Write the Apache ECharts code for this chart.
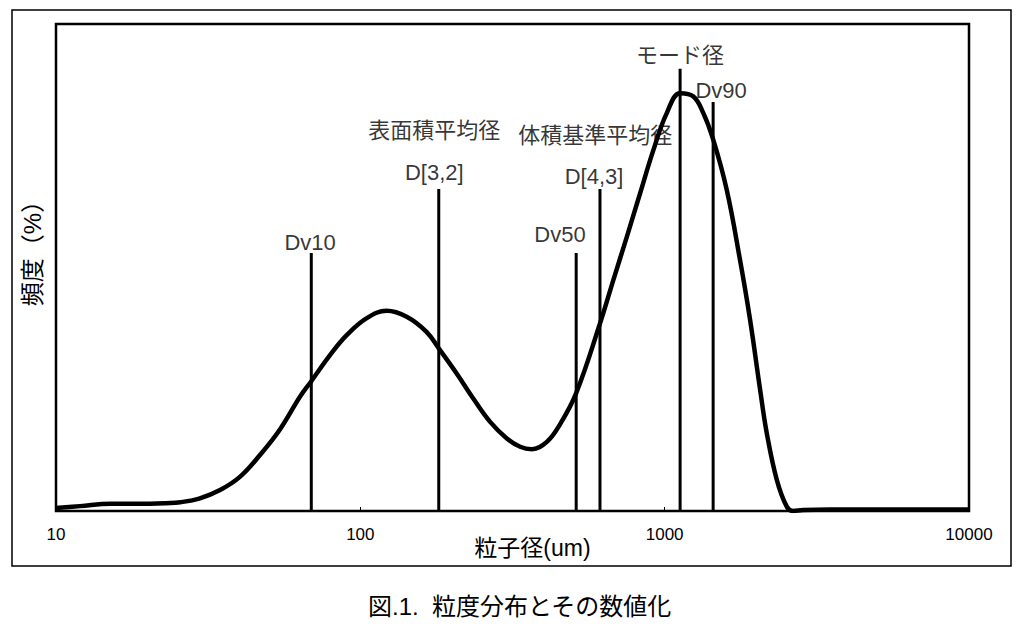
<!DOCTYPE html>
<html>
<head>
<meta charset="utf-8">
<script src="https://cdn.jsdelivr.net/npm/echarts@6/dist/echarts.min.js"></script>
<style>
  html, body { margin: 0; padding: 0; background: #fff; }
  #psdChart { width: 1020px; height: 625px; }
</style>
</head>
<body>
<div id="psdChart"></div>
<script>
// 粒度分布カーブ (粒子径 um, 頻度 相対値)
var curveX = [10, 12.0, 15.1, 17.5, 20.4, 23.0, 25.6, 29.7, 34.6, 40.2, 46.8, 54.5, 63.4, 68.9, 79.5, 90.2,
  105, 122, 142, 165, 181, 207, 235, 267, 303, 335, 366, 410, 453, 512, 613, 678, 751, 830, 918, 1016,
  1124, 1243, 1340, 1445, 1600, 1769, 1909, 2059, 2165, 2336, 2519, 2642, 2850, 3500, 5900, 10000];
var curveY = [0.6, 1.0, 1.5, 1.5, 1.5, 1.6, 1.8, 2.6, 4.3, 7.0, 11.5, 16.8, 23.5, 26.6, 32.0, 36.1,
  39.6, 41.1, 39.9, 36.8, 33.4, 28.3, 23.1, 18.3, 14.9, 13.2, 12.7, 14.2, 17.8, 24.2, 38.5, 47.4, 56.3, 65.2, 74.1, 81.7,
  85.8, 85.1, 81.7, 76.2, 65.9, 51.5, 39.2, 24.9, 16.0, 6.4, 0.9, 0.0, 0.2, 0.3, 0.3, 0.3];

// 代表径の縦線
var markerNames = ["Dv10", "D[3,2]", "Dv50", "D[4,3]", "モード径", "Dv90"];
var markerX = [69, 181, 512, 613, 1124, 1443];
var markerTop = [53.0, 66.1, 53.0, 66.1, 90.8, 84.0];

// 注記ラベル
var labelText = ["Dv10", "表面積平均径", "D[3,2]", "Dv50", "体積基準平均径", "D[4,3]", "モード径", "Dv90"];
var labelX = [68.4, 175, 175, 453, 591, 586, 1124, 1532];
var labelY = [55.2, 78.1, 69.6, 56.7, 77.2, 68.6, 93.6, 86.4];

var xTicks = [10, 100, 1000, 10000];

var fontLatin = '"Liberation Sans", Arial, "Noto Sans CJK JP", sans-serif';

var myChart = echarts.init(document.getElementById("psdChart"), null, { renderer: "svg" });

var series = [];
markerX.forEach(function (x, i) {
  series.push({
    name: markerNames[i],
    type: "line",
    data: [[x, 0], [x, markerTop[i]]],
    symbol: "none",
    silent: true,
    lineStyle: { color: "#000", width: 3 },
    z: 2
  });
});
series.push({
  name: "頻度",
  type: "line",
  data: curveX.map(function (x, i) { return [x, curveY[i]]; }),
  symbol: "none",
  smooth: 0.4,
  silent: true,
  lineStyle: { color: "#000", width: 4.5 },
  z: 3
});
series.push({
  name: "labels",
  type: "scatter",
  symbolSize: 0,
  silent: true,
  data: labelText.map(function (t, i) { return { name: t, value: [labelX[i], labelY[i]] }; }),
  label: {
    show: true,
    position: "inside",
    formatter: function (p) { return p.name; },
    color: "#000",
    fontSize: 22,
    fontFamily: fontLatin
  },
  z: 4
});

var option = {
  animation: false,
  backgroundColor: "#fff",
  title: {
    text: "図.1.  粒度分布とその数値化",
    left: 363,
    top: 589,
    textStyle: { color: "#000", fontSize: 24, fontWeight: "normal", fontFamily: fontLatin }
  },
  graphic: [{
    type: "rect",
    shape: { x: 12, y: 10, width: 999, height: 556 },
    style: { fill: "none", stroke: "#000", lineWidth: 1.5 },
    silent: true,
    z: -1
  }],
  grid: {
    left: 56,
    top: 24,
    right: 51,
    bottom: 114,
    outerBoundsMode: "none",
    containLabel: false,
    show: true,
    borderColor: "#000",
    borderWidth: 2.5,
    backgroundColor: "#fff"
  },
  xAxis: {
    type: "log",
    logBase: 10,
    min: 10,
    max: 10000,
    name: "粒子径(um)",
    nameLocation: "middle",
    nameGap: 25,
    nameMoveOverlap: false,
    nameTextStyle: { color: "#000", fontSize: 23, fontFamily: fontLatin, padding: [0, 0, 0, 40] },
    axisLine: { show: false },
    axisTick: { show: true, inside: true, length: 4, lineStyle: { color: "#000", width: 1 } },
    axisLabel: {
      color: "#000",
      fontSize: 17,
      margin: 15,
      fontFamily: fontLatin,
      formatter: function (v) { return xTicks.indexOf(Math.round(v)) >= 0 ? String(Math.round(v)) : ""; }
    },
    splitLine: { show: false },
    minorTick: { show: false }
  },
  yAxis: {
    type: "value",
    min: 0,
    max: 100,
    name: "頻度（%）",
    nameLocation: "middle",
    nameGap: 12,
    nameMoveOverlap: false,
    nameTextStyle: { color: "#000", fontSize: 24, fontFamily: fontLatin, padding: [0, 0, 0, 40] },
    axisLine: { show: false },
    axisTick: { show: false },
    axisLabel: { show: false },
    splitLine: { show: false }
  },
  series: series
};

myChart.setOption(option);
window.addEventListener("resize", function () {
  myChart.resize();
});
</script>
</body>
</html>
